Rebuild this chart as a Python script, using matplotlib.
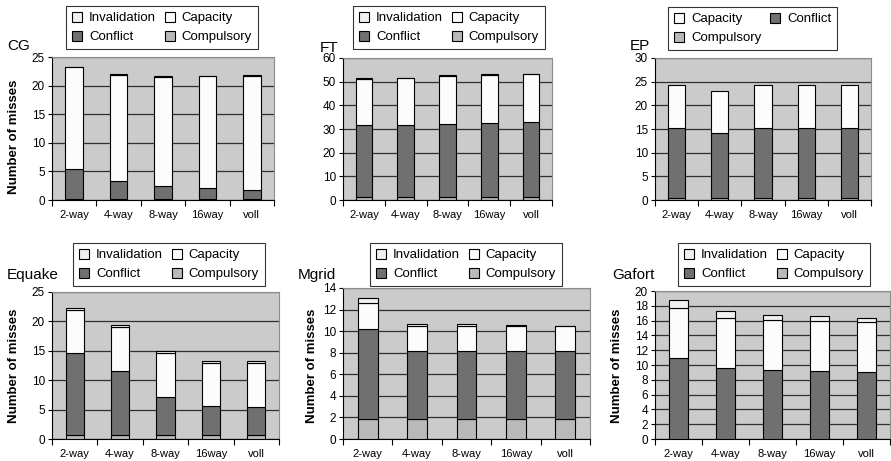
import numpy as np
import matplotlib
matplotlib.use("Agg")
import matplotlib.pyplot as plt
from matplotlib.patches import Patch

plt.rcParams["font.family"] = ["Liberation Sans", "DejaVu Sans"]

categories = ["2-way", "4-way", "8-way", "16way", "voll"]

# segment heights per benchmark, stacked bottom -> top:
# compulsory, conflict, capacity, invalidation
cg_compulsory = [0.15, 0.15, 0.15, 0.15, 0.15]
cg_conflict = [5.2, 3.15, 2.3, 2.0, 1.55]
cg_capacity = [17.85, 18.6, 19.05, 19.45, 20.0]
cg_invalidation = [0.1, 0.1, 0.15, 0.1, 0.1]

ft_compulsory = [1.1, 1.1, 1.1, 1.1, 1.1]
ft_conflict = [30.5, 30.8, 31.2, 31.6, 32.0]
ft_capacity = [19.6, 19.6, 20.2, 20.2, 20.0]
ft_invalidation = [0.15, 0.15, 0.15, 0.15, 0.15]

ep_compulsory = [0.35, 0.35, 0.35, 0.35, 0.35]
ep_conflict = [14.85, 13.85, 14.85, 14.85, 14.85]
ep_capacity = [9.0, 8.9, 9.0, 9.0, 9.0]

equake_compulsory = [0.7, 0.7, 0.7, 0.7, 0.7]
equake_conflict = [13.9, 10.9, 6.4, 4.9, 4.75]
equake_capacity = [7.3, 7.4, 7.6, 7.4, 7.55]
equake_invalidation = [0.4, 0.4, 0.2, 0.3, 0.3]

mgrid_compulsory = [1.85, 1.85, 1.85, 1.85, 1.85]
mgrid_conflict = [8.35, 6.3, 6.3, 6.3, 6.3]
mgrid_capacity = [2.4, 2.35, 2.35, 2.35, 2.35]
mgrid_invalidation = [0.5, 0.2, 0.2, 0.05, 0.0]

gafort_compulsory = [0.05, 0.05, 0.05, 0.05, 0.05]
gafort_conflict = [10.95, 9.5, 9.28, 9.15, 9.05]
gafort_capacity = [6.76, 6.75, 6.72, 6.7, 6.77]
gafort_invalidation = [1.07, 0.96, 0.75, 0.7, 0.53]

colors = {
    "Compulsory": "#b9b9b9",
    "Conflict": "#707070",
    "Capacity": "#fcfcfc",
    "Invalidation": "#f0f0f0",
}
BG = "#cbcbcb"

W, H = 891, 461
fig = plt.figure(figsize=(W / 100, H / 100), dpi=100)


def px_rect(l, t, r, b):
    return [l / W, 1 - b / H, (r - l) / W, (b - t) / H]


# name, series, ylim, ystep, axes px box, title px, legend px, ylabel px
panels = [
    ("CG", [("Compulsory", cg_compulsory), ("Conflict", cg_conflict),
            ("Capacity", cg_capacity), ("Invalidation", cg_invalidation)],
     25, 5, (52, 57, 274, 200), (7, 46), (66, 6), (14, 137)),
    ("FT", [("Compulsory", ft_compulsory), ("Conflict", ft_conflict),
            ("Capacity", ft_capacity), ("Invalidation", ft_invalidation)],
     60, 10, (343, 58, 552, 200), (320, 48), (353, 6), None),
    ("EP", [("Compulsory", ep_compulsory), ("Conflict", ep_conflict),
            ("Capacity", ep_capacity)],
     30, 5, (655, 58, 871, 200), (630, 46), (668, 7), None),
    ("Equake", [("Compulsory", equake_compulsory), ("Conflict", equake_conflict),
                ("Capacity", equake_capacity), ("Invalidation", equake_invalidation)],
     25, 5, (52, 292, 279, 439), (7, 275), (73, 243), (14, 366)),
    ("Mgrid", [("Compulsory", mgrid_compulsory), ("Conflict", mgrid_conflict),
               ("Capacity", mgrid_capacity), ("Invalidation", mgrid_invalidation)],
     14, 2, (343, 288, 590, 439), (298, 275), (370, 243), (312, 366)),
    ("Gafort", [("Compulsory", gafort_compulsory), ("Conflict", gafort_conflict),
                ("Capacity", gafort_capacity), ("Invalidation", gafort_invalidation)],
     20, 2, (655, 291, 890, 439), (612, 275), (678, 243), (617, 366)),
]

x = np.arange(len(categories))

for name, series, ymax, ystep, box, tpos, lpos, ylpos in panels:
    ax = fig.add_axes(px_rect(*box))
    ax.set_facecolor(BG)
    bottom = np.zeros(len(categories))
    for label, vals in series:
        ax.bar(x, vals, 0.4, bottom=bottom, color=colors[label],
               edgecolor="black", linewidth=0.8, zorder=3)
        bottom += np.array(vals)

    ax.set_xlim(-0.5, len(categories) - 0.5)
    ax.set_ylim(0, ymax)
    ax.set_yticks(np.arange(0, ymax + ystep / 2, ystep))
    ax.yaxis.grid(True, color="#303030", linewidth=0.9, zorder=1)
    ax.set_axisbelow(True)

    ax.set_xticks(x)
    ax.set_xticklabels(categories, fontsize=8)
    ax.set_xticks(np.arange(-0.5, len(categories)), minor=True)
    ax.tick_params(axis="x", which="major", length=0, pad=7)
    ax.tick_params(axis="x", which="minor", length=4, width=0.8, direction="out")
    ax.tick_params(axis="y", length=3, width=0.8, direction="out", pad=2,
                   labelsize=8.5)

    for s in ["left", "bottom"]:
        ax.spines[s].set_color("black")
        ax.spines[s].set_linewidth(0.8)
    for s in ["top", "right"]:
        ax.spines[s].set_color("#8c8c8c")
        ax.spines[s].set_linewidth(0.8)

    fig.text(tpos[0] / W, 1 - tpos[1] / H, name, fontsize=11,
             ha="left", va="center")

    if ylpos is not None:
        fig.text(ylpos[0] / W, 1 - ylpos[1] / H, "Number of misses",
                 fontsize=9.5, fontweight="bold", rotation=90,
                 ha="center", va="center")

    labels = [s[0] for s in series]
    if "Invalidation" in labels:
        order = ["Invalidation", "Conflict", "Capacity", "Compulsory"]
    else:
        order = ["Capacity", "Compulsory", "Conflict"]
    handles = [Patch(facecolor=colors[l], edgecolor="black", linewidth=0.8)
               for l in order]
    leg = ax.legend(handles, order, ncol=2, loc="upper left",
                    bbox_to_anchor=(lpos[0] / W, 1 - lpos[1] / H),
                    bbox_transform=fig.transFigure, fontsize=9.5,
                    frameon=True, fancybox=False, edgecolor="black",
                    handlelength=0.75, handleheight=0.75, handletextpad=0.55,
                    columnspacing=0.65, labelspacing=0.5, borderpad=0.45,
                    borderaxespad=0)
    leg.get_frame().set_linewidth(0.8)
    leg.set_zorder(10)

fig.savefig("out.png", dpi=100)
